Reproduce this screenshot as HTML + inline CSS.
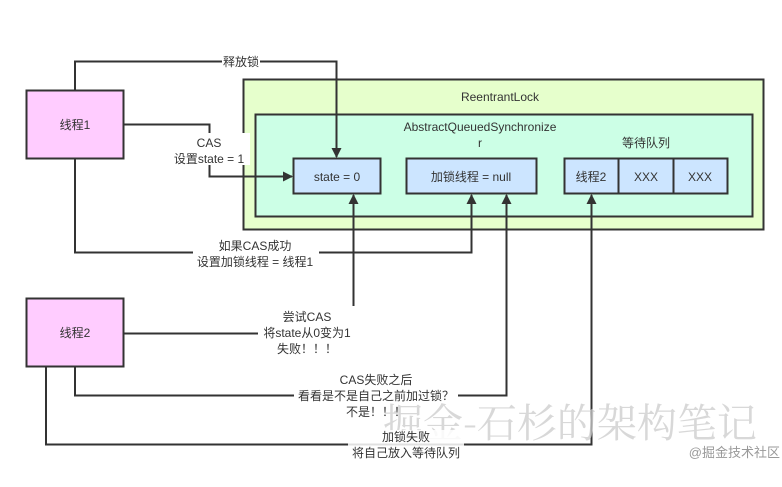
<!DOCTYPE html>
<html><head><meta charset="utf-8"><style>
html,body{margin:0;padding:0;background:#fff;}
svg{display:block;}
text{font-family:"Liberation Sans","Noto Sans CJK SC",sans-serif;font-size:12px;fill:#333;}
</style></head><body>
<svg width="782" height="487" viewBox="0 0 782 487" xmlns="http://www.w3.org/2000/svg">
<defs><marker id="a" markerWidth="10" markerHeight="10" refX="9" refY="5" orient="auto" markerUnits="userSpaceOnUse"><path d="M0,0 L10,5 L0,10 z" fill="#333"/></marker></defs>
<rect x="243.5" y="79.5" width="520" height="150" fill="#e6ffcc" stroke="#333" stroke-width="2"/>
<text x="500" y="101" text-anchor="middle">ReentrantLock</text>
<rect x="255.5" y="114.5" width="497" height="102" fill="#ccffe6" stroke="#333" stroke-width="2"/>
<text x="480" y="131" text-anchor="middle">AbstractQueuedSynchronize</text>
<text x="480" y="147" text-anchor="middle">r</text>
<text x="646" y="147" text-anchor="middle">等待队列</text>
<rect x="293.5" y="158.5" width="87" height="35" fill="#cce5ff" stroke="#333" stroke-width="2"/>
<text x="337" y="181" text-anchor="middle">state = 0</text>
<rect x="406.5" y="158.5" width="130" height="35" fill="#cce5ff" stroke="#333" stroke-width="2"/>
<text x="471" y="181" text-anchor="middle">加锁线程 = null</text>
<rect x="564.5" y="158.5" width="163" height="35" fill="#cce5ff" stroke="#333" stroke-width="2"/>
<line x1="618.5" y1="158" x2="618.5" y2="194" stroke="#333" stroke-width="2"/>
<line x1="673.5" y1="158" x2="673.5" y2="194" stroke="#333" stroke-width="2"/>
<text x="591" y="181" text-anchor="middle">线程2</text>
<text x="646" y="181" text-anchor="middle">XXX</text>
<text x="700" y="181" text-anchor="middle">XXX</text>
<rect x="26.5" y="90.5" width="97" height="68" fill="#ffccff" stroke="#333" stroke-width="2"/>
<text x="75" y="129" text-anchor="middle">线程1</text>
<rect x="26.5" y="298.5" width="97" height="68" fill="#ffccff" stroke="#333" stroke-width="2"/>
<text x="75" y="337" text-anchor="middle">线程2</text>
<g fill="none" stroke="#333" stroke-width="2">
<polyline points="75,90 75,61.5 336.5,61.5 336.5,157" marker-end="url(#a)"/>
<polyline points="123,124.5 209.5,124.5 209.5,176.5 292,176.5" marker-end="url(#a)"/>
<polyline points="75,158 75,252.5 471.5,252.5 471.5,195" marker-end="url(#a)"/>
<polyline points="353.5,308 353.5,195" marker-end="url(#a)"/>
<polyline points="123,333.5 258,333.5"/>
<polyline points="75,366 75,395.5 506.5,395.5 506.5,195" marker-end="url(#a)"/>
<polyline points="46,366 46,444.5 591.5,444.5 591.5,195" marker-end="url(#a)"/>
</g>
<rect x="222" y="54" width="38" height="14" fill="#fff"/>
<text x="241" y="66" text-anchor="middle">释放锁</text>
<rect x="168" y="133" width="82" height="32" fill="#fff"/>
<text x="209" y="147" text-anchor="middle">CAS</text>
<text x="209" y="163" text-anchor="middle">设置state = 1</text>
<rect x="193" y="238" width="126" height="30" fill="#fff"/>
<text x="255" y="250" text-anchor="middle">如果CAS成功</text>
<text x="255" y="266" text-anchor="middle">设置加锁线程 = 线程1</text>
<rect x="258" y="306" width="100" height="50" fill="#fff"/>
<text x="307" y="321" text-anchor="middle">尝试CAS</text>
<text x="307" y="337" text-anchor="middle">将state从0变为1</text>
<text x="307" y="353" text-anchor="middle">失败！！！</text>
<rect x="294" y="372" width="164" height="44" fill="#fff"/>
<text x="376" y="384" text-anchor="middle">CAS失败之后</text>
<text x="376" y="400" text-anchor="middle">看看是不是自己之前加过锁？</text>
<text x="376" y="416" text-anchor="middle">不是！！！</text>
<text x="570" y="437" text-anchor="middle" style="font-family:'Noto Serif CJK SC',serif;font-size:40px;fill:#ccc;opacity:.75">掘金-石杉的架构笔记</text>
<rect x="348" y="430" width="116" height="30" fill="#fff" opacity=".85"/>
<text x="406" y="441" text-anchor="middle">加锁失败</text>
<text x="406" y="457" text-anchor="middle">将自己放入等待队列</text>
<text x="780" y="457" text-anchor="end" style="font-size:13px;fill:#999">@掘金技术社区</text>
</svg>
</body></html>
